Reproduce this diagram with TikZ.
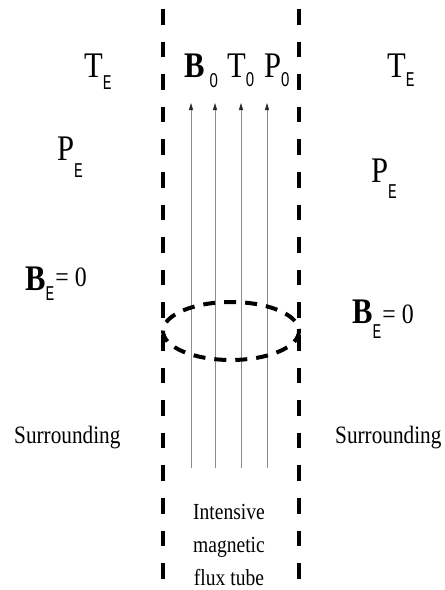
\documentclass[tikz,border=0pt]{standalone}
\usepackage{fontspec}
\setmainfont{Liberation Serif}
\newfontfamily\diagfont[FakeStretch=0.85]{Liberation Serif}
\newfontfamily\subfont[FakeStretch=0.7]{Liberation Mono}
\newfontfamily\zerofont[FakeStretch=0.75]{Liberation Sans}
\usetikzlibrary{arrows.meta}
% subscript: kern, drop, text
\newcommand{\lowsub}[3]{\kern#1\raisebox{-#2}{\mdseries\subfont\fontsize{21}{21}\selectfont #3}}
\newcommand{\lowzero}[2]{\kern#1\raisebox{-#2}{\mdseries\zerofont\fontsize{20}{20}\selectfont 0}}
\tikzset{
  wall/.style={line width=3.5pt, dash pattern=on 15.6pt off 17pt},
  ring/.style={line width=4pt, dash pattern=on 12pt off 9pt},
  field/.style={draw=black!45, line width=0.8pt, -{Triangle[length=7pt,width=4pt,color=black!85]}},
  sym/.style={anchor=base west, inner sep=0pt, font=\diagfont\fontsize{36}{40}\selectfont},
  word/.style={inner sep=0pt, align=center, font=\diagfont\fontsize{25}{33}\selectfont}
}
\begin{document}
\begin{tikzpicture}[x=1pt, y=-1pt]
  \useasboundingbox (0,0) rectangle (445,590);

  % tube walls
  \coordinate (wlT) at (163,9);
  \coordinate (wlB) at (163,590);
  \coordinate (wrT) at (299,9);
  \coordinate (wrB) at (299,590);
  \draw[wall] (wlT) -- (wlB);
  \draw[wall] (wrT) -- (wrB);

  % field lines
  \foreach \i/\xx in {1/191, 2/215, 3/241, 4/267} {
    \coordinate (f\i s) at (\xx,468);
    \coordinate (f\i e) at (\xx,103);
    \draw[field] (f\i s) -- (f\i e);
  }

  % cross-section
  \coordinate (sect) at (231,331);
  \draw[ring] (sect) ellipse [x radius=68, y radius=29];

  % inside
  \node[sym] (bzero) at (184,77) {\bfseries B\lowzero{5pt}{10pt}};
  \node[sym] (tzero) at (227,77) {T\lowzero{0pt}{9pt}};
  \node[sym] (pzero) at (264,77) {P\lowzero{0pt}{9pt}};

  % left side
  \node[sym] (teL) at (84,77) {T\lowsub{0pt}{12pt}{E}};
  \node[sym] (peL) at (57,160) {P\lowsub{0pt}{17pt}{E}};
  \node[sym] (beL) at (25,290) {\bfseries B\lowsub{0pt}{10pt}{E}\kern1pt\raisebox{4pt}{\mdseries\fontsize{28}{30}\selectfont= 0}};

  % right side
  \node[sym] (teR) at (387,77) {T\lowsub{0pt}{9pt}{E}};
  \node[sym] (peR) at (371,182) {P\lowsub{0pt}{16pt}{E}};
  \node[sym] (beR) at (352,323) {\bfseries B\lowsub{0pt}{15pt}{E}\kern1pt{\mdseries\fontsize{28}{30}\selectfont= 0}};

  % labels
  \node[word, anchor=base west] (surrL) at (14,443) {Surrounding};
  \node[word, anchor=base west] (surrR) at (335,443) {Surrounding};
  \node[word, font=\diagfont\fontsize{23}{33}\selectfont] (tube) at (229,545) {Intensive\\magnetic\\flux tube};
\end{tikzpicture}
\end{document}
